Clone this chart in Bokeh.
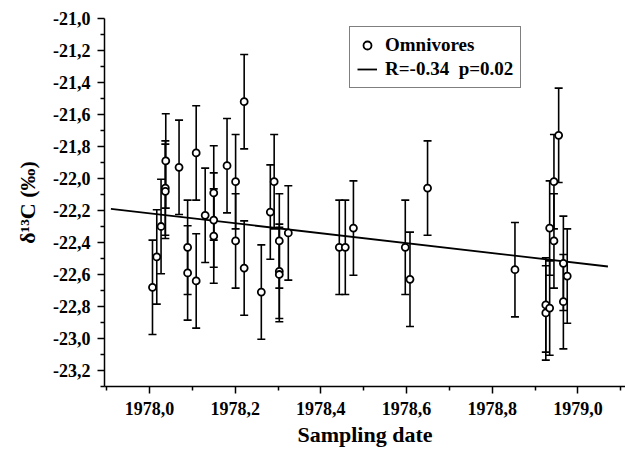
from bokeh.plotting import figure
from bokeh.models import (ColumnDataSource, Whisker, TeeHead, FixedTicker,
                          Legend, LegendItem, Range1d)
from bokeh.embed import file_html
from bokeh.resources import INLINE

# ---- data ----
sampling_date = [1978.007, 1978.017, 1978.027, 1978.037, 1978.037, 1978.038,
                 1978.069, 1978.089, 1978.089, 1978.109, 1978.109, 1978.130,
                 1978.150, 1978.150, 1978.150, 1978.181, 1978.201, 1978.201,
                 1978.221, 1978.221, 1978.261, 1978.282, 1978.291, 1978.303,
                 1978.303, 1978.303, 1978.324, 1978.443, 1978.457, 1978.476,
                 1978.597, 1978.608, 1978.649, 1978.853, 1978.925, 1978.925,
                 1978.934, 1978.934, 1978.944, 1978.944, 1978.955, 1978.966,
                 1978.966, 1978.975]
delta13c = [-22.68, -22.49, -22.30, -22.06, -22.08, -21.89,
            -21.93, -22.43, -22.59, -21.84, -22.64, -22.23,
            -22.09, -22.26, -22.36, -21.92, -22.02, -22.39,
            -21.52, -22.56, -22.71, -22.21, -22.02, -22.39,
            -22.58, -22.60, -22.34, -22.43, -22.43, -22.31,
            -22.43, -22.63, -22.06, -22.57, -22.79, -22.84,
            -22.81, -22.31, -22.39, -22.02, -21.73, -22.53,
            -22.77, -22.61]
delta13c_err = [0.295, 0.295, 0.295, 0.295, 0.295, 0.295,
                0.295, 0.295, 0.295, 0.295, 0.295, 0.295,
                0.295, 0.295, 0.295, 0.295, 0.295, 0.295,
                0.295, 0.295, 0.295, 0.295, 0.295, 0.295,
                0.295, 0.295, 0.295, 0.295, 0.295, 0.295,
                0.295, 0.295, 0.295, 0.295, 0.295, 0.295,
                0.295, 0.295, 0.295, 0.295, 0.295, 0.295,
                0.295, 0.295]

fit_date = [1977.91, 1979.07]
fit_delta13c = [-22.19, -22.55]

series_label = "Omnivores"
fit_label = "R=-0.34  p=0.02"

x_ticks = [1978.0, 1978.2, 1978.4, 1978.6, 1978.8, 1979.0]
x_tick_labels = ["1978,0", "1978,2", "1978,4", "1978,6", "1978,8", "1979,0"]
x_minor_ticks = [1977.9, 1978.1, 1978.3, 1978.5, 1978.7, 1978.9, 1979.1]

y_ticks = [-21.0, -21.2, -21.4, -21.6, -21.8, -22.0, -22.2, -22.4, -22.6,
           -22.8, -23.0, -23.2]
y_tick_labels = ["-21,0", "-21,2", "-21,4", "-21,6", "-21,8", "-22,0",
                 "-22,2", "-22,4", "-22,6", "-22,8", "-23,0", "-23,2"]
y_minor_ticks = [-21.1, -21.3, -21.5, -21.7, -21.9, -22.1, -22.3, -22.5,
                 -22.7, -22.9, -23.1, -23.3]

# ---- figure ----
FONT = "Liberation Serif"

p = figure(width=625, height=450, output_backend="svg", toolbar_location=None,
           x_range=Range1d(1977.895, 1979.111), y_range=Range1d(-23.3, -21.0),
           min_border_left=104, min_border_right=0, min_border_top=18,
           min_border_bottom=64)
p.xgrid.visible = False
p.ygrid.visible = False
p.outline_line_color = None
p.background_fill_color = "white"
p.border_fill_color = "white"

src = ColumnDataSource(dict(
    x=sampling_date,
    y=delta13c,
    upper=[v + e for v, e in zip(delta13c, delta13c_err)],
    lower=[v - e for v, e in zip(delta13c, delta13c_err)],
))

whisk = Whisker(source=src, base="x", upper="upper", lower="lower",
                dimension="height", line_color="black", line_width=1.6,
                upper_head=TeeHead(size=8, line_color="black", line_width=1.6),
                lower_head=TeeHead(size=8, line_color="black", line_width=1.6),
                level="underlay")
p.add_layout(whisk)

r_fit = p.line(fit_date, fit_delta13c, line_color="black", line_width=1.8)
r_pts = p.scatter("x", "y", source=src, marker="circle", size=7,
                  fill_color="white", line_color="black", line_width=1.8)

# axes
p.xaxis.ticker = FixedTicker(ticks=x_ticks, minor_ticks=x_minor_ticks)
p.yaxis.ticker = FixedTicker(ticks=y_ticks, minor_ticks=y_minor_ticks)
p.xaxis.major_label_overrides = dict(zip(x_ticks, x_tick_labels))
p.yaxis.major_label_overrides = dict(zip(y_ticks, y_tick_labels))
p.xaxis.axis_label = "Sampling date"
p.yaxis.axis_label = "δ¹³C (‰)"

for ax in (p.xaxis[0], p.yaxis[0]):
    ax.axis_line_color = "black"
    ax.axis_line_width = 1.5
    ax.major_tick_line_color = "black"
    ax.major_tick_line_width = 1.5
    ax.minor_tick_line_color = "black"
    ax.minor_tick_line_width = 1.5
    ax.major_tick_in = 0
    ax.major_tick_out = 7
    ax.minor_tick_in = 0
    ax.minor_tick_out = 4
    ax.major_label_text_font = FONT
    ax.major_label_text_font_style = "bold"
    ax.major_label_text_font_size = "18px"
    ax.major_label_text_color = "black"
    ax.axis_label_text_font = FONT
    ax.axis_label_text_font_style = "bold"
    ax.axis_label_text_font_size = "22px"
    ax.axis_label_text_color = "black"

p.xaxis.major_label_standoff = 8
p.xaxis.axis_label_standoff = 4
p.yaxis.major_label_standoff = 7
p.yaxis.axis_label_standoff = 10

legend = Legend(items=[LegendItem(label=series_label, renderers=[r_pts]),
                       LegendItem(label=fit_label, renderers=[r_fit])],
                location=(245, 298), orientation="vertical",
                border_line_color="black", border_line_width=1.5,
                background_fill_color="white", background_fill_alpha=1.0,
                label_text_font=FONT, label_text_font_style="bold",
                label_text_font_size="19px", label_text_color="black",
                glyph_width=20, glyph_height=20, label_height=20,
                spacing=2, padding=7, label_standoff=8, margin=0)
p.add_layout(legend, "center")

open("out.html", "w").write(file_html(p, INLINE))
